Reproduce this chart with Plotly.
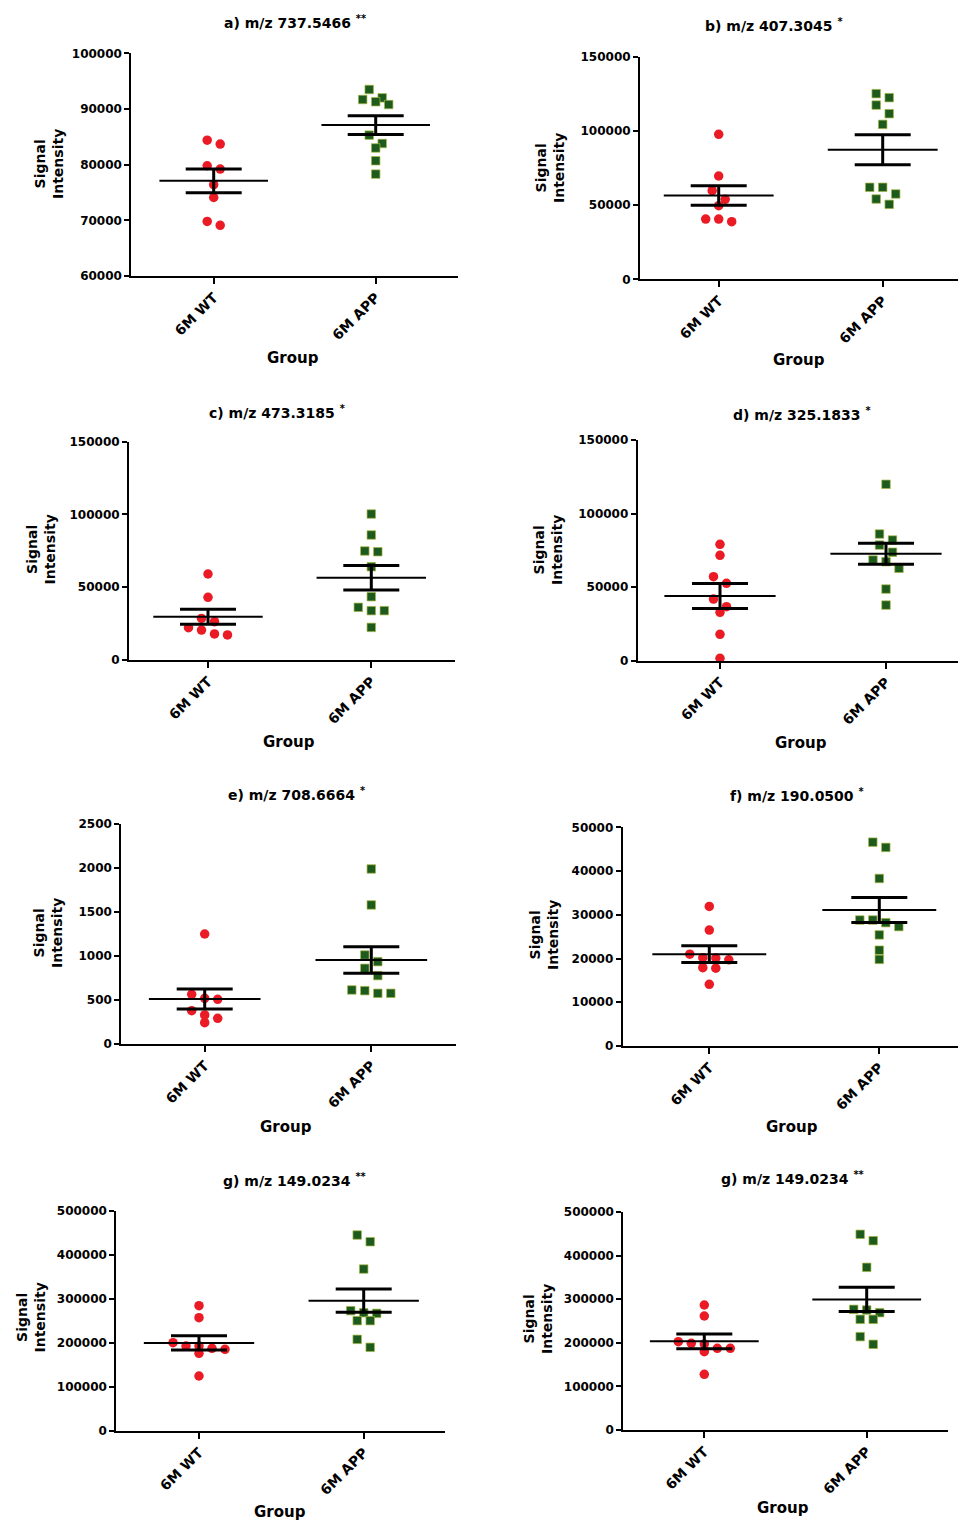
import plotly.graph_objects as go

# ---------------- data ----------------
groups = ["6M WT", "6M APP"]

titles = [
    "a) m/z 737.5466", "b) m/z 407.3045", "c) m/z 473.3185", "d) m/z 325.1833",
    "e) m/z 708.6664", "f) m/z 190.0500", "g) m/z 149.0234", "g) m/z 149.0234",
]
stars = ["**", "*", "*", "*", "*", "*", "**", "**"]

a_wt = [84400, 83700, 79800, 79200, 76400, 74100, 69800, 69100]
a_app = [93500, 92000, 91300, 90800, 91700, 85300, 83800, 83000, 80700, 78300]
b_wt = [97700, 69600, 59700, 53900, 49600, 40600, 38800, 40600]
b_app = [122400, 125100, 117400, 111600, 104400, 62000, 62000, 57500, 54100, 50500]
c_wt = [59100, 43100, 26300, 20600, 17200, 17900, 22200, 28600]
c_app = [100300, 85900, 74400, 74900, 64100, 43500, 33900, 33900, 36200, 22400]
d_wt = [79100, 71600, 57100, 52600, 41900, 36700, 32900, 17900, 1600]
d_app = [119900, 86100, 82000, 78600, 73700, 68400, 67300, 62800, 48700, 37800]
e_wt = [1250, 519, 508, 564, 330, 242, 292, 379]
e_app = [1989, 1580, 1011, 936, 860, 777, 606, 576, 576, 614]
f_wt = [31900, 26500, 21000, 20100, 17900, 17800, 19700, 20200, 14100]
f_app = [45400, 46600, 38300, 28800, 28800, 28200, 27300, 25400, 21900, 19800]
g_wt = [284400, 257200, 200400, 192900, 187600, 176200, 185300, 192900, 124800]
g_app = [444800, 429600, 367600, 268500, 273100, 267000, 250400, 250400, 208000, 189900]
h_wt = [286700, 261500, 202600, 198800, 187300, 179700, 187300, 197200, 127700]
h_app = [448800, 434200, 373100, 275200, 276700, 269100, 253800, 253800, 214100, 196500]

wt_values = [a_wt, b_wt, c_wt, d_wt, e_wt, f_wt, g_wt, h_wt]
app_values = [a_app, b_app, c_app, d_app, e_app, f_app, g_app, h_app]

# mean and SEM as drawn
wt_mean = [77100, 56500, 29700, 43900, 511, 21000, 200000, 203300]
wt_sem = [2130, 6600, 5200, 8500, 113, 1900, 15900, 16800]
app_mean = [87100, 87300, 56500, 72700, 954, 31080, 295800, 299500]
app_sem = [1700, 10100, 8350, 7130, 151, 2860, 26450, 27900]

y_min = [60000, 0, 0, 0, 0, 0, 0, 0]
y_max = [100000, 150000, 150000, 150000, 2500, 50000, 500000, 500000]
y_step = [10000, 50000, 50000, 50000, 500, 10000, 100000, 100000]

# ---------------- layout geometry (pixels in the target picture) ----------------
W, H = 966, 1524
OX, OY = 5, 8  # page offset compensation
# x0, x1, ytop, ybot, cWT, cAPP, title(x,y), group(x,y), ytitle(x,y)
geom = [
    (128.3, 455, 53.3, 276, 210.7, 372.7, (292, 22.5), (290, 358), (46, 164)),
    (637, 956, 56.7, 279.3, 715.7, 879.7, (771, 25), (796, 360), (547, 168)),
    (126, 451.7, 441.7, 660, 205, 368.3, (274, 411.7), (285.7, 741.7), (37.5, 550)),
    (634.7, 962, 440, 660.7, 717, 883, (798.7, 414), (798, 743.3), (545, 550)),
    (118.3, 453, 824, 1044, 201.7, 368.3, (293.3, 794), (283.3, 1126.7), (45, 933)),
    (619.7, 963, 827.3, 1046, 706.3, 876.3, (793.7, 795), (788.7, 1126.7), (541, 935)),
    (113.3, 441.7, 1210.7, 1431, 196, 360.7, (291.7, 1180), (276.7, 1511.7), (27.5, 1318)),
    (620.3, 944.7, 1212, 1430, 701.3, 863.7, (789.7, 1178), (780.3, 1508.3), (535, 1319)),
]


def px(x):
    return (x - OX) / W


def py(y):
    return 1 - (y - OY) / H


RED = "#ea1b25"
GREEN = "#1c5a1e"
FONT = "DejaVu Sans"
MEAN_HALF = 0.335
STEP_PX = 13
ROW_PX = 9


def swarm(values, ppu, spacing):
    """Prism-like column scatter: group close values in rows, centre each row."""
    order = sorted(range(len(values)), key=lambda i: -values[i])
    rows, cur, start = [], [], None
    for i in order:
        if cur and abs(values[start] - values[i]) * ppu <= ROW_PX:
            cur.append(i)
        else:
            if cur:
                rows.append(cur)
            cur, start = [i], i
    if cur:
        rows.append(cur)
    off = [0.0] * len(values)
    for row in rows:
        m = len(row)
        for k, i in enumerate(row):
            off[i] = (k - (m - 1) / 2) * STEP_PX / spacing
    return off


fig = go.Figure()
annotations = []
layout = dict(
    template="none",
    width=W, height=H, margin=dict(l=0, r=0, t=0, b=0, pad=0, autoexpand=False),
    paper_bgcolor="white", plot_bgcolor="white", showlegend=False,
)

for p in range(8):
    x0, x1, yt, yb, cwt, capp, tpos, gpos, ypos = geom[p]
    n = "" if p == 0 else str(p + 1)
    xa, ya = "x" + n, "y" + n
    spacing = capp - cwt
    lo, hi = (x0 - cwt) / spacing, (x1 - cwt) / spacing
    ppu = (yb - yt) / (y_max[p] - y_min[p])

    axis_common = dict(
        showline=True, linecolor="black", linewidth=2, mirror=False,
        ticks="outside", tickcolor="black", tickwidth=2, automargin=False,
        showgrid=False, zeroline=False, fixedrange=True,
    )
    layout["xaxis" + n] = dict(
        axis_common, domain=[px(x0), px(x1)], range=[lo, hi], anchor=ya,
        tickvals=[0, 1], ticktext=groups, tickangle=-45, ticklen=6,
        tickfont=dict(family=FONT, size=14, color="black", weight="bold"),
    )
    yt_vals = list(range(y_min[p], y_max[p] + 1, y_step[p]))
    layout["yaxis" + n] = dict(
        axis_common, domain=[py(yb), py(yt)], range=[y_min[p], y_max[p]],
        anchor=xa, tickvals=yt_vals, ticktext=[str(v) for v in yt_vals], ticklen=5,
        tickfont=dict(family=FONT, size=12, color="black", weight="bold"),
    )

    # points
    wv, av = wt_values[p], app_values[p]
    wo = swarm(wv, ppu, spacing)
    ao = swarm(av, ppu, spacing)
    fig.add_trace(go.Scatter(
        x=[0 + o for o in wo], y=wv, mode="markers", xaxis=xa, yaxis=ya,
        marker=dict(symbol="circle", size=9.5, color=RED, line=dict(width=0)),
        cliponaxis=False, hoverinfo="y",
    ))
    fig.add_trace(go.Scatter(
        x=[1 + o for o in ao], y=av, mode="markers", xaxis=xa, yaxis=ya,
        marker=dict(symbol="square", size=8.5, color=GREEN,
                    line=dict(width=0.7, color="#a8b840")),
        cliponaxis=False, hoverinfo="y",
    ))

    # mean lines
    means = [wt_mean[p], app_mean[p]]
    sems = [wt_sem[p], app_sem[p]]
    mx, my = [], []
    for c, m in zip([0, 1], means):
        mx += [c - MEAN_HALF, c + MEAN_HALF, None]
        my += [m, m, None]
    fig.add_trace(go.Scatter(
        x=mx, y=my, mode="lines", xaxis=xa, yaxis=ya,
        line=dict(color="black", width=2), hoverinfo="skip",
    ))
    # SEM bars
    fig.add_trace(go.Scatter(
        x=[0, 1], y=means, mode="markers", xaxis=xa, yaxis=ya,
        marker=dict(size=1, color="rgba(0,0,0,0)"),
        error_y=dict(type="data", array=sems, visible=True, color="black",
                     thickness=3, width=28),
        hoverinfo="skip",
    ))

    # texts
    annotations.append(dict(
        x=px(tpos[0]), y=py(tpos[1]), xref="paper", yref="paper",
        text="<b>" + titles[p] + " <sup>" + stars[p] + "</sup></b>",
        showarrow=False, xanchor="center", yanchor="middle",
        font=dict(family=FONT, size=14, color="black"),
    ))
    annotations.append(dict(
        x=px(gpos[0]), y=py(gpos[1]), xref="paper", yref="paper",
        text="<b>Group</b>", showarrow=False, xanchor="center", yanchor="middle",
        font=dict(family=FONT, size=15, color="black"),
    ))
    annotations.append(dict(
        x=px(ypos[0]), y=py(ypos[1]), xref="paper", yref="paper",
        text="<b>Signal<br>Intensity</b>", showarrow=False, textangle=-90,
        xanchor="center", yanchor="middle",
        font=dict(family=FONT, size=14, color="black"),
    ))

layout["annotations"] = annotations
fig.update_layout(**layout)
fig.write_html("out.html")
